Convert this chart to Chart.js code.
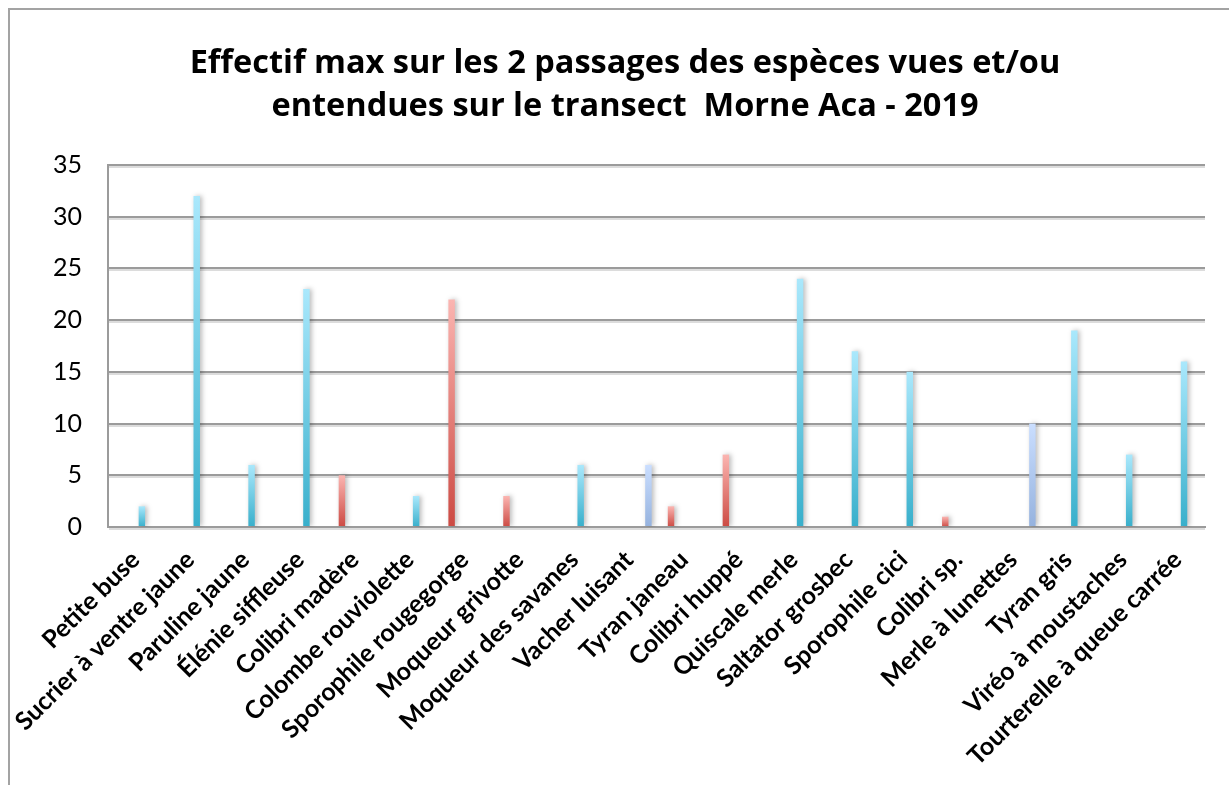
<!DOCTYPE html>
<html lang="fr">
<head>
<meta charset="utf-8">
<title>Effectif max - Morne Aca 2019</title>
<script src="https://cdn.jsdelivr.net/npm/chart.js@4.4.1/dist/chart.umd.min.js"></script>
<style>
  html, body { margin: 0; padding: 0; background: #fff; overflow: hidden; }
  body { width: 1229px; height: 785px; position: relative; }
  #cadre {
    position: absolute; left: 8px; top: 8px;
    border-left: 2px solid #a3a3a3; border-top: 2px solid #a3a3a3;
  }
  #cadre canvas { display: block; }
</style>
</head>
<body>
<div id="cadre"><canvas id="chart-effectifs" width="1230" height="780"></canvas></div>
<script>
/* ── Données ── */
const especes = [
  'Petite buse', 'Sucrier à ventre jaune', 'Paruline jaune', 'Élénie siffleuse',
  'Colibri madère', 'Colombe rouviolette', 'Sporophile rougegorge', 'Moqueur grivotte',
  'Moqueur des savanes', 'Vacher luisant', 'Tyran janeau', 'Colibri huppé',
  'Quiscale merle', 'Saltator grosbec', 'Sporophile cici', 'Colibri sp.',
  'Merle à lunettes', 'Tyran gris', 'Viréo à moustaches', 'Tourterelle à queue carrée'
];
const effectifBleu    = [2, 32, 6, 23, null, 3, null, null, 6, null, null, null, 24, 17, 15, null, null, 19, 7, 16];
const effectifRouge   = [null, null, null, null, 5, null, 22, 3, null, null, 2, 7, null, null, null, 1, null, null, null, null];
const effectifLavande = [null, null, null, null, null, null, null, null, null, 6, null, null, null, null, null, null, 10, null, null, null];
const serieVide       = [null, null, null, null, null, null, null, null, null, null, null, null, null, null, null, null, null, null, null, null];
const yTicks = [0, 5, 10, 15, 20, 25, 30, 35];

const TITRE = ['Effectif max sur les 2 passages des espèces vues et/ou',
               'entendues sur le transect  Morne Aca - 2019'];
const FONT = 'Lato, "Open Sans", sans-serif';
const GRIS = '#9b9b9b';

/* dégradé vertical propre à chaque barre */
function degrade(haut, bas) {
  return c => {
    const chart = c.chart, v = c.raw;
    if (!chart.chartArea || v == null) return bas;
    const y = chart.scales.y;
    const g = chart.ctx.createLinearGradient(0, y.getPixelForValue(v), 0, y.getPixelForValue(0));
    g.addColorStop(0, haut); g.addColorStop(1, bas);
    return g;
  };
}

const serie = (label, data, fill) => ({ label, data, backgroundColor: fill, borderWidth: 0 });

/* liseré clair sous chaque ligne de grille, puis ombre douce des barres */
const ombres = {
  id: 'ombres',
  beforeDatasetsDraw(chart) {
    const c = chart.ctx, y = chart.scales.y, a = chart.chartArea;
    c.save();
    c.strokeStyle = '#dcdcdc'; c.lineWidth = 2;
    y.ticks.forEach(t => {
      const py = Math.round(y.getPixelForValue(t.value)) + 2;
      c.beginPath(); c.moveTo(a.left + 1, py); c.lineTo(a.right, py); c.stroke();
    });
    c.restore();
    c.save();
    c.shadowColor = 'rgba(0,0,0,0.28)';
    c.shadowBlur = 5; c.shadowOffsetX = 2; c.shadowOffsetY = 0;
  },
  afterDatasetsDraw(chart) { chart.ctx.restore(); }
};

new Chart(document.getElementById('chart-effectifs'), {
  type: 'bar',
  data: {
    labels: especes,
    datasets: [
      serie('s1', serieVide, '#ccc'),
      serie('rouge', effectifRouge, degrade('#fbb5b1', '#cc4a43')),
      serie('s3', serieVide, '#ccc'),
      serie('s4', serieVide, '#ccc'),
      serie('bleu', effectifBleu, degrade('#aae8fc', '#38afcb')),
      serie('s6', serieVide, '#ccc'),
      serie('lavande', effectifLavande, degrade('#cadeff', '#95b2de'))
    ]
  },
  options: {
    responsive: false, animation: false,
    categoryPercentage: 7 / 8.5, barPercentage: 1,
    layout: { padding: { left: 35, right: 35, top: 0, bottom: 0 } },
    plugins: {
      legend: { display: false },
      tooltip: { enabled: false },
      title: {
        display: true, text: TITRE, color: '#000',
        font: { family: '"Open Sans", sans-serif', size: 32.5, weight: 'bold', lineHeight: 1.323 },
        padding: { top: 32, bottom: 37 }
      }
    },
    scales: {
      x: {
        grid: { display: false },
        border: { display: true, color: GRIS, width: 2 },
        ticks: {
          autoSkip: false, maxRotation: 45, minRotation: 45, color: '#000', padding: 10,
          font: { family: FONT, size: 25, weight: 'bold' }
        },
        afterFit: s => { s.height = 263; }
      },
      y: {
        min: 0, max: 35,
        afterBuildTicks: s => { s.ticks = yTicks.map(v => ({ value: v })); },
        grid: { color: GRIS, lineWidth: 2, drawTicks: false },
        border: { display: true, color: GRIS, width: 2 },
        ticks: { color: '#000', padding: 26, font: { family: FONT, size: 25 } },
        afterFit: s => { s.width = 63; }
      }
    }
  },
  plugins: [ombres]
});
</script>
</body>
</html>
